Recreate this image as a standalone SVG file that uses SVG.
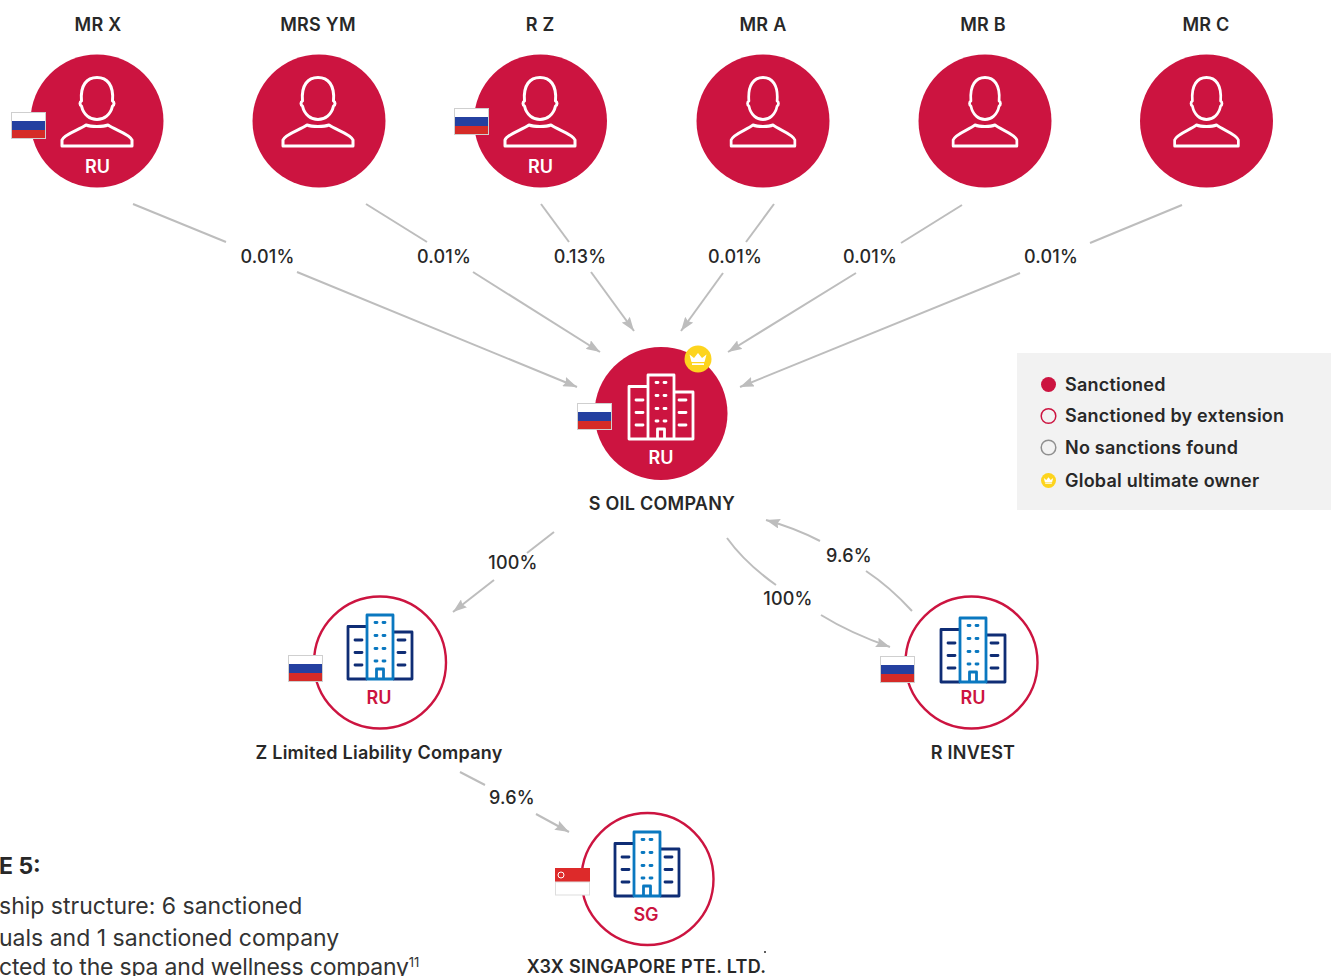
<svg xmlns="http://www.w3.org/2000/svg" width="1331" height="976" viewBox="0 0 1331 976">
<style>
text{font-family:Inter,"Liberation Sans",sans-serif;fill:#282828;font-weight:600}
.n{font-size:18px;text-anchor:middle;letter-spacing:.24px}
.p{font-size:18px;text-anchor:middle;font-weight:500;letter-spacing:.2px}
.cc{font-size:18px;text-anchor:middle}
.w{fill:#fff}.r{fill:#cc1440}
.l{font-size:18px;letter-spacing:.22px}
.b{font-size:23px;font-weight:400;fill:#333}
.solid{fill:#cc1440}
.ring{fill:#fff;stroke:#cc1440;stroke-width:2.4}
.c{fill:none;stroke:#bdbdbd;stroke-width:2}
.a{marker-end:url(#arr)}
</style>
<defs>
<marker id="arr" markerUnits="userSpaceOnUse" markerWidth="15" markerHeight="10" refX="14" refY="5" orient="auto"><path d="M0 0L14 5L0 10L2 5Z" fill="#bdbdbd"/></marker>
<g id="person" fill="none" stroke="#fff" stroke-width="3" stroke-linejoin="round" stroke-linecap="round">
<path d="M-15.500-20C-17-36-10-43.500 0-43.500C10-43.500 17-36 15.500-20C17.500-19 17.500-16 15.500-15C13.500-6 7-1.500 0-1.500C-7-1.500-13.500-6-15.500-15C-17.500-16-17.500-19-15.500-20Z"/>
<path d="M-35 25L-35 19C-33 13-18 9-11 4C-6 6 6 6 11 4C18 9 33 13 35 19L35 25Z"/>
</g>
<g id="flagru"><rect width="35" height="27" fill="#fff"/><rect y="9" width="35" height="9" fill="#2440a0"/><rect y="18" width="35" height="9" fill="#d52b27"/><rect x=".5" y=".5" width="34" height="26" fill="none" stroke="#cfcfcf"/></g>
<g id="bldgw" fill="none" stroke="#fff" stroke-width="2.800" stroke-linejoin="round">
<path d="M-13-38.500H13V25.500H-13ZM-13-27H-32V25.500H-13M13-21.500H32V25.500H13"/>
<path d="M-3.500 25.500V15.500H3.500V25.500"/>
<path stroke-linecap="round" d="M-25-13.500H-18M-25-1H-18M-25 11.500H-18M18-13.500H25M18-1H25M18 11.500H25M-5-31H-3M3-31H5M-5-18H-3M3-18H5M-5-5H-3M3-5H5M-5 7.500H-3M3 7.500H5"/>
</g>
<g id="bldgc" fill="none" stroke-width="2.800" stroke-linejoin="round">
<path stroke="#0f2d75" d="M-13-27H-32V25.500H-13M13-21.500H32V25.500H13"/>
<path stroke="#0f2d75" stroke-linecap="round" d="M-25-13.500H-18M-25-1H-18M-25 11.500H-18M18-13.500H25M18-1H25M18 11.500H25"/>
<path stroke="#0a78c0" d="M-13-38.500H13V25.500H-13ZM-3.500 25.500V15.500H3.500V25.500"/>
<path stroke="#0a78c0" stroke-linecap="round" d="M-5-31H-3M3-31H5M-5-18H-3M3-18H5M-5-5H-3M3-5H5M-5 7.500H-3M3 7.500H5"/>
</g>
<path id="crown" fill="#fff" d="M-8.500-4.500L-4-1L0-6L4-1L8.500-4.500L6.500 3H-6.500ZM-6 4.200H6V6H-6Z"/>
</defs>
<g id="connectors" class="c">
<path class="c" d="M133 204L226 242"/><path class="c a" d="M297 272L577 387"/>
<path class="c" d="M366 204L427 242"/><path class="c a" d="M473 272L600 352"/>
<path class="c" d="M541 204L569 242"/><path class="c a" d="M591 272L634 331"/>
<path class="c" d="M774 204L746 242"/><path class="c a" d="M723 273L681 331"/>
<path class="c" d="M962 205L901 243"/><path class="c a" d="M856 273L728 352"/>
<path class="c" d="M1182 205L1090 243"/><path class="c a" d="M1020 273L740 387"/>
<path class="c" d="M554 532L527 553"/><path class="c a" d="M494 580L453 612"/>
<path class="c" d="M727 538Q745 563 776 585"/><path class="c a" d="M821 615Q850 633 890 647"/>
<path class="c" d="M912 611Q890 587 866 571"/><path class="c a" d="M820 541Q795 528 766 520"/>
<path class="c" d="M460 772L485 785"/><path class="c a" d="M536 814L569 832"/>
</g>
<g id="edge-labels">
<text class="p" x="267.500" y="263">0.01%</text><text class="p" x="444" y="263">0.01%</text><text class="p" x="580" y="263">0.13%</text><text class="p" x="735" y="263">0.01%</text><text class="p" x="870" y="263">0.01%</text><text class="p" x="1051" y="263">0.01%</text>
<text class="p" x="513" y="569">100%</text><text class="p" x="788" y="605">100%</text><text class="p" x="849" y="562">9.6%</text><text class="p" x="512" y="804">9.6%</text>
</g>
<g id="mr-x"><text class="n" x="98" y="31">MR X</text><circle class="solid" cx="97" cy="121" r="66.500"/><use href="#person" x="97" y="121"/><use href="#flagru" x="11" y="112"/><text class="cc w" x="97.500" y="173">RU</text></g>
<g id="mrs-ym"><text class="n" x="318" y="31">MRS YM</text><circle class="solid" cx="319" cy="121" r="66.500"/><use href="#person" x="318" y="121"/></g>
<g id="r-z"><text class="n" x="540" y="31">R Z</text><circle class="solid" cx="540.500" cy="121" r="66.500"/><use href="#person" x="540" y="121"/><use href="#flagru" x="454" y="108"/><text class="cc w" x="540.500" y="173">RU</text></g>
<g id="mr-a"><text class="n" x="763" y="31">MR A</text><circle class="solid" cx="763" cy="121" r="66.500"/><use href="#person" transform="translate(763 121) scale(.91 1)"/></g>
<g id="mr-b"><text class="n" x="983" y="31">MR B</text><circle class="solid" cx="985" cy="121" r="66.500"/><use href="#person" transform="translate(985 121) scale(.91 1)"/></g>
<g id="mr-c"><text class="n" x="1206" y="31">MR C</text><circle class="solid" cx="1206.500" cy="121" r="66.500"/><use href="#person" transform="translate(1206.500 121) scale(.91 1)"/></g>
<g id="s-oil"><circle class="solid" cx="661" cy="413.500" r="66.500"/><use href="#bldgw" x="661" y="413.500"/><use href="#flagru" x="577" y="403"/><text class="cc w" x="661" y="464">RU</text><circle cx="698" cy="359" r="13.500" fill="#fdd41e"/><use href="#crown" x="698" y="359"/><text class="n" x="662" y="510">S OIL COMPANY</text></g>
<g id="z-llc"><circle class="ring" cx="380" cy="662.500" r="66"/><use href="#bldgc" x="380" y="653.500"/><use href="#flagru" x="288" y="655"/><text class="cc r" x="379" y="704">RU</text><text class="n" x="379" y="759">Z Limited Liability Company</text></g>
<g id="r-invest"><circle class="ring" cx="971.500" cy="662.500" r="66"/><use href="#bldgc" x="973" y="656.500"/><use href="#flagru" x="880" y="656"/><text class="cc r" x="973" y="704">RU</text><text class="n" x="973" y="759">R INVEST</text></g>
<g id="x3x"><circle class="ring" cx="647.500" cy="879" r="66"/><use href="#bldgc" x="647" y="870.500"/><rect x="555" y="868" width="35" height="14" fill="#dd2a2a"/><rect x="555.500" y="882" width="34" height="13" fill="#fff" stroke="#ddd"/><circle cx="561" cy="875" r="3" fill="none" stroke="#fff" stroke-width="1"/><text class="cc r" x="646" y="921">SG</text><text class="n" x="646.500" y="973" style="letter-spacing:.3px">X3X SINGAPORE PTE. LTD.</text><circle cx="765" cy="952" r="1" fill="#282828"/></g>
<g id="legend"><rect x="1017" y="353" width="314" height="157" fill="#f2f2f2"/>
<circle cx="1048.500" cy="384.500" r="7.500" fill="#cc1440"/><text class="l" x="1065" y="391">Sanctioned</text>
<circle cx="1048.500" cy="416" r="7.300" fill="none" stroke="#cc1440" stroke-width="1.500"/><text class="l" x="1065" y="422">Sanctioned by extension</text>
<circle cx="1048.500" cy="447.500" r="7.300" fill="none" stroke="#8f8f8f" stroke-width="1.500"/><text class="l" x="1065" y="454">No sanctions found</text>
<circle cx="1048.500" cy="480.500" r="7.500" fill="#fdd41e"/><use href="#crown" transform="translate(1048.500 480.500) scale(.55)"/><text class="l" x="1065" y="487">Global ultimate owner</text></g>
<g id="caption"><text x="-1" y="874" font-size="23" style="font-weight:700">E 5:</text>
<text class="b" x="-1" y="914">ship structure: 6 sanctioned</text><text class="b" x="-1" y="946">uals and 1 sanctioned company</text><text class="b" x="-1" y="975" letter-spacing="-.2">cted to the spa and wellness company<tspan font-size="13" dy="-8">11</tspan></text></g>
</svg>
